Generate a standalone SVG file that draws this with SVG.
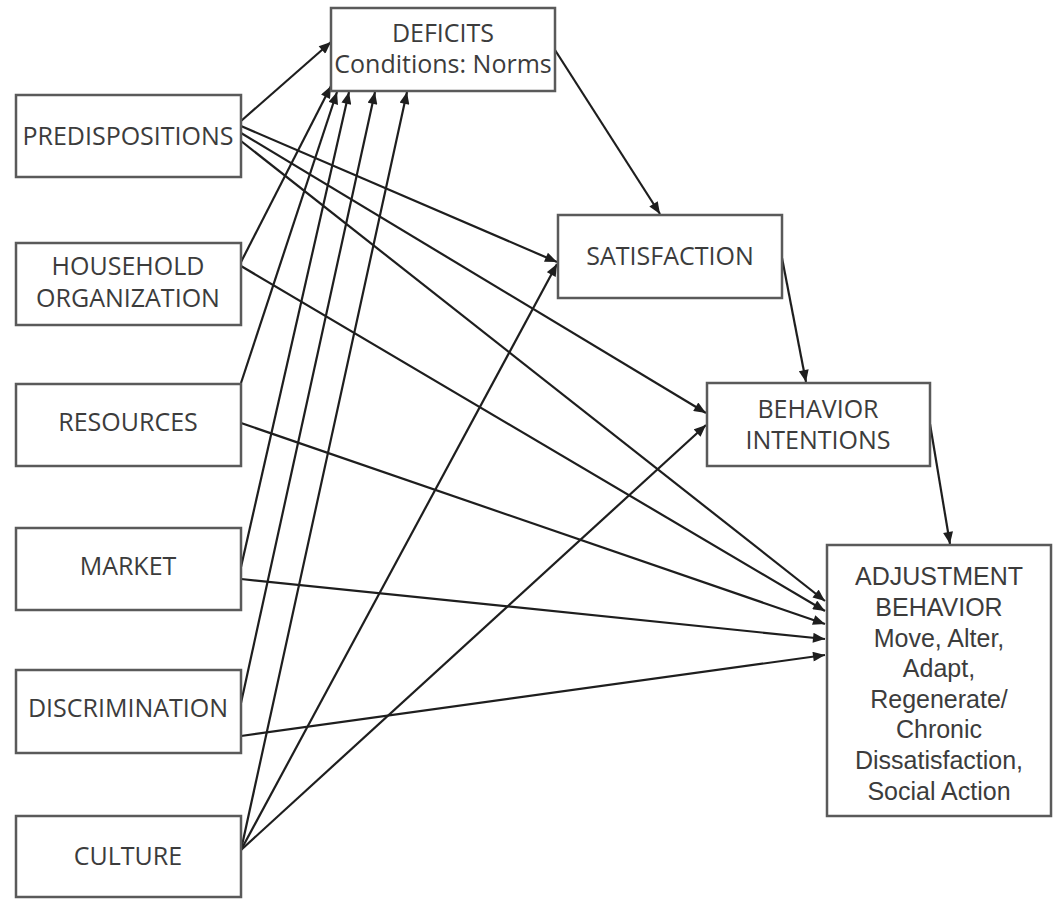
<svg xmlns="http://www.w3.org/2000/svg" width="1056" height="899" viewBox="0 0 1056 899">
<style>
.box{fill:#fff;stroke:#5a5a5a;stroke-width:2.5}
.t{font-family:"Open Sans","Liberation Sans",sans-serif;font-size:25px;fill:#3c3c3c;text-anchor:middle}
.a{font-family:"Liberation Sans",Arial,sans-serif;font-size:25px;fill:#3c3c3c;text-anchor:middle}
.c{fill:none;stroke:#1e1e1e;stroke-width:2.2;marker-end:url(#ah)}
</style>
<defs>
<marker id="ah" viewBox="0 0 12 10" refX="12" refY="5" markerWidth="13" markerHeight="10" orient="auto" markerUnits="userSpaceOnUse">
<path d="M0,0 L12,5 L0,10 z" fill="#1e1e1e"/>
</marker>
</defs>
<rect width="1056" height="899" fill="#fff"/>
<g id="connectors">
<path class="c" d="M241,121 L331,42"/>
<path class="c" d="M241,262 L331,86"/>
<path class="c" d="M241,383 L337,92"/>
<path class="c" d="M241,567 L349,92"/>
<path class="c" d="M241,703 L375,92"/>
<path class="c" d="M241,850 L407,92"/>
<path class="c" d="M241,126 L557,262"/>
<path class="c" d="M241,850 L557,264"/>
<path class="c" d="M241,133 L706,413"/>
<path class="c" d="M241,850 L706,425"/>
<path class="c" d="M241,141 L825,601"/>
<path class="c" d="M241,266 L825,611"/>
<path class="c" d="M241,423 L825,624"/>
<path class="c" d="M241,579 L825,639"/>
<path class="c" d="M241,736 L825,655"/>
<path class="c" d="M555,50 L660,214"/>
<path class="c" d="M782,258 L806,382"/>
<path class="c" d="M930,424 L950,544"/>
</g>
<g id="deficits"><rect class="box" x="331" y="8" width="224" height="83"/><text class="t" x="443" y="42">DEFICITS</text><text class="t" x="443" y="73">Conditions: Norms</text></g>
<g id="predispositions"><rect class="box" x="16" y="95" width="225" height="82"/><text class="t" x="128" y="145">PREDISPOSITIONS</text></g>
<g id="household"><rect class="box" x="16" y="243" width="225" height="82"/><text class="t" x="128" y="275">HOUSEHOLD</text><text class="t" x="128" y="307">ORGANIZATION</text></g>
<g id="resources"><rect class="box" x="16" y="384" width="225" height="82"/><text class="t" x="128" y="431">RESOURCES</text></g>
<g id="market"><rect class="box" x="16" y="528" width="225" height="82"/><text class="t" x="128" y="575">MARKET</text></g>
<g id="discrimination"><rect class="box" x="16" y="670" width="225" height="83"/><text class="t" x="128" y="717">DISCRIMINATION</text></g>
<g id="culture"><rect class="box" x="16" y="816" width="225" height="81"/><text class="t" x="128" y="865">CULTURE</text></g>
<g id="satisfaction"><rect class="box" x="558" y="215" width="224" height="83"/><text class="t" x="670" y="265">SATISFACTION</text></g>
<g id="behavior-intentions"><rect class="box" x="707" y="383" width="223" height="83"/><text class="t" x="818" y="418">BEHAVIOR</text><text class="t" x="818" y="449">INTENTIONS</text></g>
<g id="adjustment"><rect class="box" x="827" y="545" width="224" height="271"/>
<text class="a" x="939" y="585">ADJUSTMENT</text>
<text class="a" x="939" y="616">BEHAVIOR</text>
<text class="a" x="939" y="647">Move, Alter,</text>
<text class="a" x="939" y="677">Adapt,</text>
<text class="a" x="939" y="708">Regenerate/</text>
<text class="a" x="939" y="738">Chronic</text>
<text class="a" x="939" y="769">Dissatisfaction,</text>
<text class="a" x="939" y="800">Social Action</text>
</g>
</svg>
